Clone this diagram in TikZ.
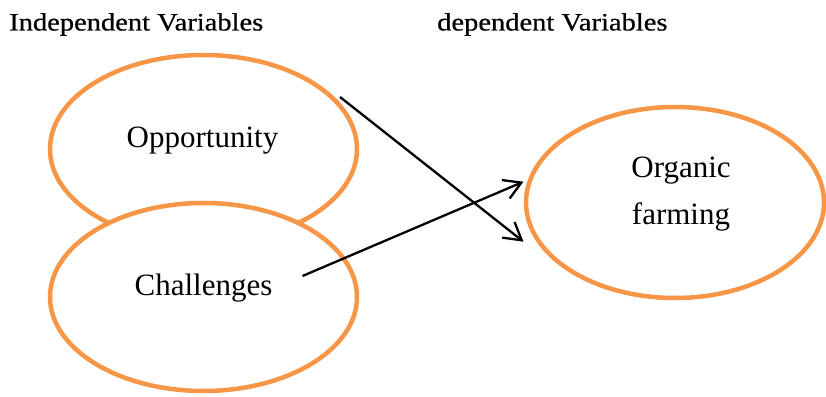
\documentclass[tikz,border=0pt]{standalone}
\usepackage{fontspec}
\setmainfont{Liberation Serif}
\newfontfamily\headfont[FakeStretch=1.14, FakeBold=0.6]{Liberation Serif}
\usetikzlibrary{arrows.meta,shapes.geometric}
\definecolor{ovalorange}{HTML}{F79646}
\begin{document}
\begin{tikzpicture}[x=1pt, y=1pt,
    oval/.style={draw=ovalorange, line width=4.5pt, fill=white, ellipse, inner sep=0pt},
    word/.style={inner sep=0pt, font=\fontsize{31}{47}\selectfont},
    head/.style={inner sep=0pt, anchor=base west, font=\headfont\fontsize{25}{30}\selectfont},
    link/.style={line width=2.3pt, -{Straight Barb[length=17pt, width=20pt, line width=2.3pt]}}]
    \useasboundingbox (0,0) rectangle (826,396);

    % Titoli delle due colonne
    \node[head] (indep) at (9,365.5) {Independent Variables};
    \node[head] (dep) at (437,365.5) {dependent Variables};

    % Ellissi delle variabili
    \node[oval, minimum width=307pt, minimum height=188pt] (opp) at (203.5,247) {};
    \node[oval, minimum width=307pt, minimum height=188pt] (chal) at (203.5,99) {};
    \node[oval, minimum width=298pt, minimum height=191pt] (org) at (675,193.5) {};

    % Testi dentro le ellissi
    \node[word, anchor=base] (opptxt) at (202.5,248) {Opportunity};
    \node[word, anchor=base] (chaltxt) at (203.5,100) {Challenges};
    \node[word, align=center] (orgtxt) at (681,202) {Organic\\farming};

    % Estremi delle frecce
    \coordinate (oppout) at (340,299);
    \coordinate (chalout) at (302.5,120);
    \coordinate (orgin1) at (523.5,154.3);
    \coordinate (orgin2) at (523.5,214.3);

    % Frecce verso la variabile dipendente
    \foreach \from/\to in {oppout/orgin1, chalout/orgin2} {
        \draw[link] (\from) -- (\to);
    }
\end{tikzpicture}
\end{document}
